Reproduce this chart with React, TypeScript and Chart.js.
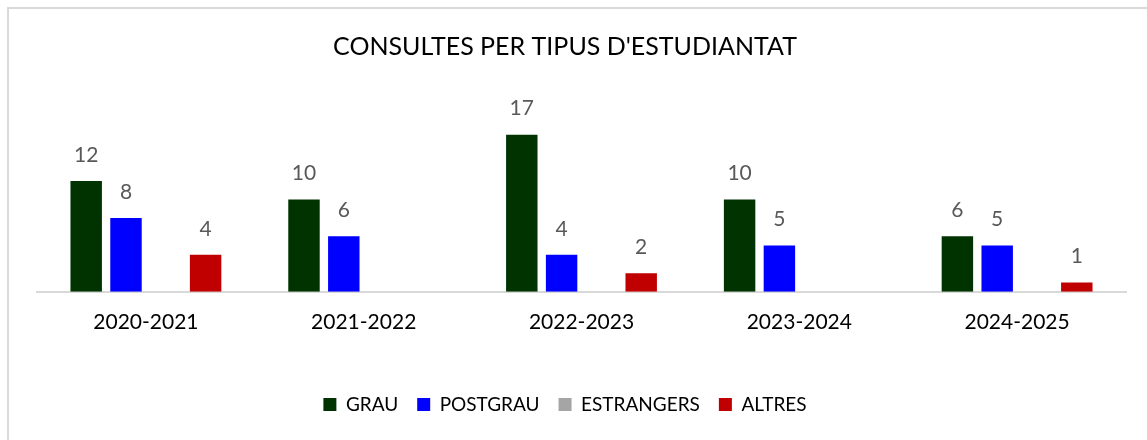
import React, { useEffect, useRef } from "react";
import { Chart, registerables } from "chart.js";

Chart.register(...registerables);

const categories = ["2020-2021", "2021-2022", "2022-2023", "2023-2024", "2024-2025"];
const grau = [12, 10, 17, 10, 6];
const postgrau = [8, 6, 4, 5, 5];
const estrangers: (number | null)[] = [null, null, null, null, null];
const altres: (number | null)[] = [4, null, 2, null, 1];
const titleText = "CONSULTES PER TIPUS D'ESTUDIANTAT";

const FONT = "Lato, 'Open Sans', sans-serif";

const framePlugin = {
  id: "frame",
  beforeDraw(chart: any) {
    const ctx = chart.ctx;
    ctx.save();
    ctx.fillStyle = "#ffffff";
    ctx.fillRect(0, 0, chart.width, chart.height);
    ctx.fillStyle = "#d9d9d9";
    ctx.fillRect(7, 7, chart.width - 7, 2);
    ctx.fillRect(7, 7, 2, chart.height - 7);
    ctx.restore();
  },
};

const valueLabels = {
  id: "valueLabels",
  afterDatasetsDraw(chart: any) {
    const ctx = chart.ctx;
    ctx.save();
    ctx.font = `21px ${FONT}`;
    ctx.fillStyle = "#595959";
    ctx.textAlign = "center";
    ctx.textBaseline = "middle";
    chart.data.datasets.forEach((ds: any, i: number) => {
      const meta = chart.getDatasetMeta(i);
      meta.data.forEach((bar: any, j: number) => {
        const v = ds.data[j];
        if (v === null || v === undefined) return;
        ctx.fillText(String(v), bar.x, bar.y - 26);
      });
    });
    ctx.restore();
  },
};

export default function App() {
  const ref = useRef<HTMLCanvasElement | null>(null);
  useEffect(() => {
    if (!ref.current) return;
    const chart = new Chart(ref.current, {
      type: "bar",
      data: {
        labels: categories,
        datasets: [
          { label: "GRAU", data: grau, backgroundColor: "#003300" },
          { label: "POSTGRAU", data: postgrau, backgroundColor: "#0000ff" },
          { label: "ESTRANGERS", data: estrangers, backgroundColor: "#a5a5a5" },
          { label: "ALTRES", data: altres, backgroundColor: "#c00000" },
        ],
      },
      options: {
        animation: false,
        responsive: true,
        maintainAspectRatio: false,
        datasets: { bar: { categoryPercentage: 0.731, barPercentage: 0.79 } } as any,
        layout: { padding: { left: 4, right: 21, top: 0, bottom: 16 } },
        plugins: {
          title: {
            display: true,
            text: titleText,
            color: "#000000",
            font: { family: FONT, size: 25, weight: "normal" },
            padding: { top: 32, bottom: 45 },
          },
          legend: {
            position: "bottom",
            labels: {
              color: "#000000",
              font: { family: FONT, size: 19 },
              boxWidth: 13,
              boxHeight: 13,
              padding: 19,
            },
          },
          tooltip: { enabled: false },
        },
        scales: {
          x: {
            grid: { display: false, drawTicks: false },
            border: { display: true, color: "#d9d9d9", width: 2 },
            ticks: { color: "#000000", font: { family: FONT, size: 21 }, padding: 18 },
            afterFit: (s: any) => {
              s.height += 23;
            },
          },
          y: {
            min: 0,
            max: 20,
            grid: { display: false, drawTicks: false },
            border: { display: false },
            ticks: { display: false },
            afterFit: (s: any) => {
              s.width = 33;
            },
          },
        },
      },
      plugins: [framePlugin, valueLabels],
    });
    return () => chart.destroy();
  }, []);
  return (
    <div style={{ position: "fixed", left: 0, top: 0, width: 1147, height: 440 }}>
      <canvas ref={ref} />
    </div>
  );
}
